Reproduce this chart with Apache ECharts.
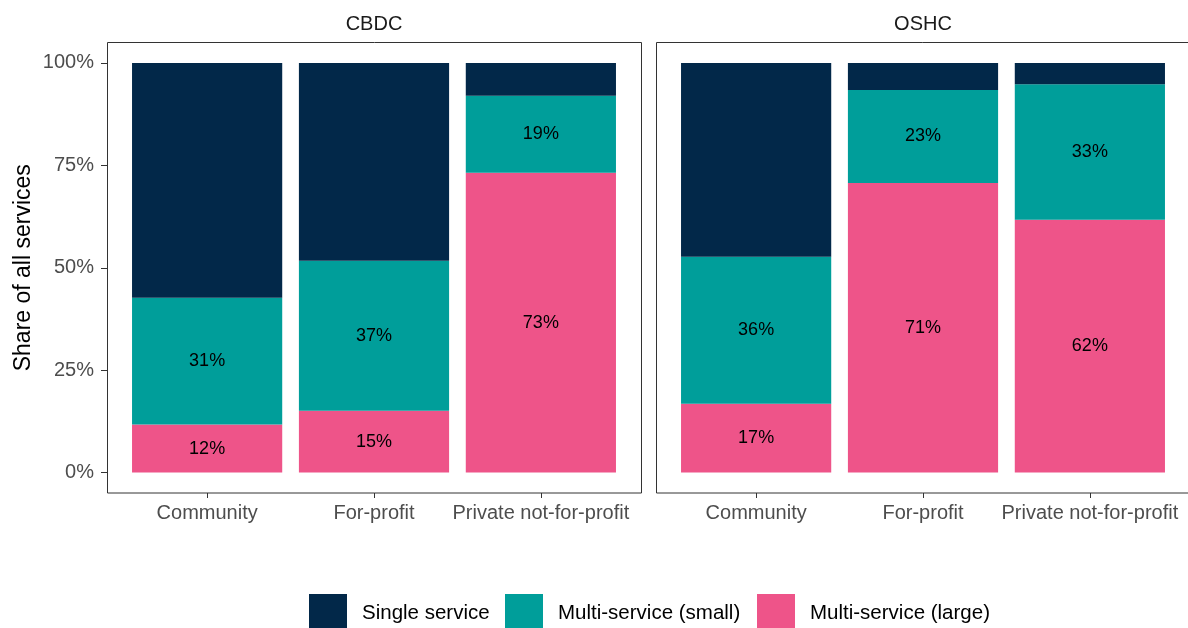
<!DOCTYPE html>
<html>
<head>
<meta charset="utf-8">
<script src="https://cdn.jsdelivr.net/npm/echarts@6/dist/echarts.min.js"></script>
<style>
  html, body { margin: 0; padding: 0; background: #fff; }
  #main { width: 1188px; height: 628px; }
</style>
</head>
<body>
<div id="main"></div>
<script>
// categories and values (share of all services, %)
var categories = ['Community', 'For-profit', 'Private not-for-profit'];
var facets = ['CBDC', 'OSHC'];
var seriesNames = ['Single service', 'Multi-service (small)', 'Multi-service (large)'];
var yTicks = [0, 25, 50, 75, 100];

var cbdcLarge = [11.7, 15.1, 73.2];
var cbdcSmall = [31.0, 36.6, 18.8];
var cbdcSingle = [57.3, 48.3, 8.0];

var oshcLarge = [16.8, 70.7, 61.7];
var oshcSmall = [35.9, 22.7, 33.1];
var oshcSingle = [47.3, 6.6, 5.2];

var colors = { 'Single service': '#022849', 'Multi-service (small)': '#009E9A', 'Multi-service (large)': '#EE5489' };
var font = "'Liberation Sans', Arial, sans-serif";

var myChart = echarts.init(document.getElementById('main'));

// panel geometry (ggplot like facets, discrete expansion 0.6, continuous 5%)
var panelLeft = [107, 656];
var panelTop = 42.5, panelH = 450.5, panelW = 534;
var unit = panelW / 3.2;
var inset = 0.1 * unit;

function makeSeries(name, data, idx, withLabel) {
    return {
        name: name,
        type: 'bar',
        stack: 'total' + idx,
        xAxisIndex: idx,
        yAxisIndex: idx,
        barWidth: '90%',
        data: data,
        itemStyle: { color: colors[name] },
        label: {
            show: withLabel,
            position: 'inside',
            color: '#000',
            fontSize: 18,
            fontFamily: font,
            formatter: function (p) { return Math.round(p.value) + '%'; }
        },
        emphasis: { disabled: true }
    };
}

var grids = [], xAxes = [], yAxes = [], graphics = [];
for (var i = 0; i < 2; i++) {
    grids.push({ left: panelLeft[i] + inset, top: panelTop, width: panelW - 2 * inset, height: panelH });
    xAxes.push({
        type: 'category', gridIndex: i, data: categories,
        axisLine: { show: false, onZero: false },
        axisTick: { show: true, interval: 0, alignWithLabel: true, length: 5, lineStyle: { color: '#333' } },
        axisLabel: { color: '#4d4d4d', fontSize: 20, fontFamily: font, margin: 10, interval: 0, hideOverlap: false }
    });
    yAxes.push({
        type: 'value', gridIndex: i, min: -5, max: 105, show: i === 0,
        offset: inset,
        name: 'Share of all services', nameLocation: 'middle', nameGap: 72,
        nameTextStyle: { color: '#000', fontSize: 23, fontFamily: font },
        axisLine: { show: false },
        axisTick: { show: true, length: 6, customValues: yTicks, lineStyle: { color: '#333' } },
        axisLabel: { color: '#4d4d4d', fontSize: 20, fontFamily: font, margin: 13, customValues: yTicks,
            formatter: function (v) { return v + '%'; } },
        splitLine: { show: false }
    });
    graphics.push({
        type: 'rect', silent: true, z: 10,
        shape: { x: panelLeft[i] + 0.5, y: panelTop, width: panelW, height: panelH },
        style: { fill: null, stroke: '#333', lineWidth: 1 }
    });
    graphics.push({
        type: 'text', silent: true,
        x: panelLeft[i] + panelW / 2, y: 24,
        style: { text: facets[i], fill: '#1a1a1a', fontSize: 20, fontFamily: font,
                 textAlign: 'center', textVerticalAlign: 'middle' }
    });
}

var legendLeft = [309, 505, 757];
var legends = [];
for (var k = 0; k < 3; k++) {
    legends.push({
        data: [seriesNames[k]], left: legendLeft[k], top: 594, padding: 0,
        icon: 'rect', itemWidth: 38, itemHeight: 38, selectedMode: false,
        textStyle: { color: '#000', fontSize: 20.5, fontFamily: font,
                     padding: [0, 0, 0, 10] }
    });
}

var option = {
    animation: false,
    backgroundColor: '#fff',
    legend: legends,
    grid: grids,
    xAxis: xAxes,
    yAxis: yAxes,
    graphic: graphics,
    series: [
        makeSeries('Multi-service (large)', cbdcLarge, 0, true),
        makeSeries('Multi-service (small)', cbdcSmall, 0, true),
        makeSeries('Single service', cbdcSingle, 0, false),
        makeSeries('Multi-service (large)', oshcLarge, 1, true),
        makeSeries('Multi-service (small)', oshcSmall, 1, true),
        makeSeries('Single service', oshcSingle, 1, false)
    ]
};
myChart.setOption(option);
</script>
</body>
</html>
